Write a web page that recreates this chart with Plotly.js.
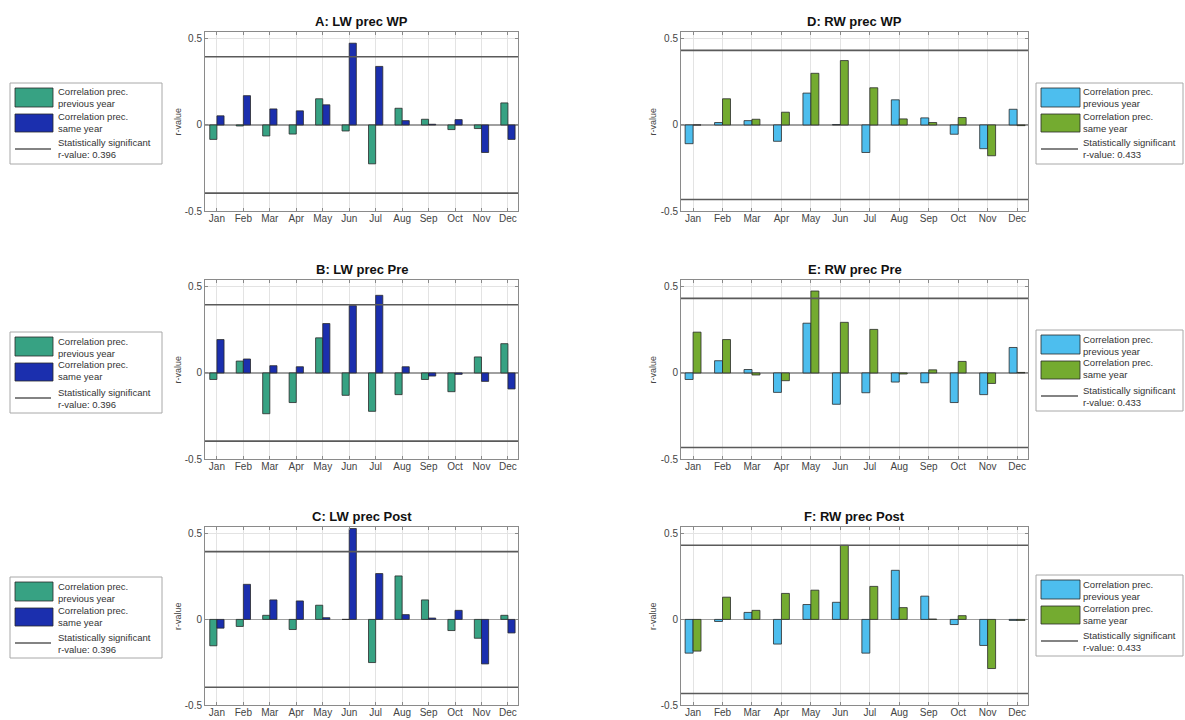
<!DOCTYPE html>
<html>
<head>
<meta charset="utf-8">
<script src="https://cdn.plot.ly/plotly-3.0.1.min.js"></script>
<style>html,body{margin:0;padding:0;background:#fff;}#chart{width:1185px;height:720px;}</style>
</head>
<body>
<div id="chart"></div>
<script>
// ---------- DATA ----------
const months = ['Jan','Feb','Mar','Apr','May','Jun','Jul','Aug','Sep','Oct','Nov','Dec'];
const yTickVals = [-0.5, 0, 0.5];
const yTickText = ['-0.5', '0', '0.5'];

// A: LW prec WP
const lwWP_prev = [-0.084, -0.006, -0.064, -0.053, 0.152, -0.035, -0.226, 0.097, 0.033, -0.027, -0.021, 0.128];
const lwWP_same = [0.053, 0.170, 0.093, 0.082, 0.117, 0.475, 0.340, 0.025, 0.004, 0.031, -0.160, -0.084];
// B: LW prec Pre
const lwPre_prev = [-0.038, 0.069, -0.237, -0.172, 0.204, -0.130, -0.223, -0.126, -0.038, -0.109, 0.093, 0.170];
const lwPre_same = [0.194, 0.081, 0.042, 0.036, 0.287, 0.391, 0.451, 0.036, -0.018, -0.008, -0.049, -0.093];
// C: LW prec Post
const lwPost_prev = [-0.154, -0.041, 0.024, -0.059, 0.083, 0.0, -0.252, 0.254, 0.114, -0.065, -0.110, 0.024];
const lwPost_same = [-0.051, 0.205, 0.114, 0.108, 0.010, 0.531, 0.268, 0.028, 0.008, 0.053, -0.260, -0.079];
// D: RW prec WP
const rwWP_prev = [-0.109, 0.014, 0.025, -0.095, 0.185, 0.002, -0.160, 0.146, 0.041, -0.054, -0.138, 0.091];
const rwWP_same = [0.0, 0.152, 0.033, 0.074, 0.300, 0.374, 0.216, 0.035, 0.014, 0.043, -0.179, -0.004];
// E: RW prec Pre
const rwPre_prev = [-0.038, 0.071, 0.020, -0.113, 0.289, -0.182, -0.115, -0.053, -0.057, -0.172, -0.126, 0.148];
const rwPre_same = [0.237, 0.194, -0.012, -0.045, 0.476, 0.294, 0.253, -0.006, 0.018, 0.067, -0.061, 0.003];
// F: RW prec Post
const rwPost_prev = [-0.197, -0.012, 0.041, -0.144, 0.087, 0.100, -0.197, 0.287, 0.136, -0.030, -0.152, -0.006];
const rwPost_same = [-0.185, 0.130, 0.053, 0.152, 0.171, 0.433, 0.193, 0.069, 0.002, 0.022, -0.287, -0.006];

const sigLW = 0.396;
const sigRW = 0.433;

const legendPrevText = 'Correlation prec.<br>previous year';
const legendSameText = 'Correlation prec.<br>same year';
const legendSigLW = 'Statistically significant<br>r-value: 0.396';
const legendSigRW = 'Statistically significant<br>r-value: 0.433';

// ---------- STYLE ----------
const W = 1185, H = 720;
const FONT = 'Liberation Sans, Arial, Helvetica, sans-serif';
const cTeal = '#37a283', cBlue = '#1b2fae', cSky = '#4dbeee', cGreen = '#74ab30';
const px = v => v / W;
const py = v => 1 - v / H;

const panels = [
  {ax: '',  title: 'A: LW prec WP',   prev: lwWP_prev,   same: lwWP_same,   sig: sigLW, c1: cTeal, c2: cBlue,  side: 'L', top: 32,  bot: 211, legTop: 83,  sigTxt: legendSigLW},
  {ax: '2', title: 'B: LW prec Pre',  prev: lwPre_prev,  same: lwPre_same,  sig: sigLW, c1: cTeal, c2: cBlue,  side: 'L', top: 280, bot: 459, legTop: 332, sigTxt: legendSigLW},
  {ax: '3', title: 'C: LW prec Post', prev: lwPost_prev, same: lwPost_same, sig: sigLW, c1: cTeal, c2: cBlue,  side: 'L', top: 527, bot: 705, legTop: 577, sigTxt: legendSigLW},
  {ax: '4', title: 'D: RW prec WP',   prev: rwWP_prev,   same: rwWP_same,   sig: sigRW, c1: cSky,  c2: cGreen, side: 'R', top: 32,  bot: 211, legTop: 83,  sigTxt: legendSigRW},
  {ax: '5', title: 'E: RW prec Pre',  prev: rwPre_prev,  same: rwPre_same,  sig: sigRW, c1: cSky,  c2: cGreen, side: 'R', top: 280, bot: 459, legTop: 330, sigTxt: legendSigRW},
  {ax: '6', title: 'F: RW prec Post', prev: rwPost_prev, same: rwPost_same, sig: sigRW, c1: cSky,  c2: cGreen, side: 'R', top: 527, bot: 705, legTop: 575, sigTxt: legendSigRW}
];

const geo = {
  L: {x0: 205, x1: 518, xr: [-0.45, 11.38], ylab: 178, box: [10, 162], sw: [15, 53], txt: 56},
  R: {x0: 681, x1: 1028, xr: [-0.41, 11.37], ylab: 653, box: [1036, 1183], sw: [1041, 1080], txt: 1081}
};

const traces = [];
const shapes = [];
const annotations = [];
const layout = {
  width: W, height: H,
  margin: {l: 0, r: 0, t: 0, b: 0},
  paper_bgcolor: '#ffffff', plot_bgcolor: '#ffffff',
  showlegend: false,
  barmode: 'group', bargap: 0.46, bargroupgap: 0,
  font: {family: FONT, size: 10, color: '#333'}
};

panels.forEach(p => {
  const g = geo[p.side];
  const xa = 'x' + p.ax, ya = 'y' + p.ax;
  traces.push({
    type: 'bar', x: months, y: p.prev, xaxis: xa, yaxis: ya, name: 'prev',
    marker: {color: p.c1, line: {color: '#2a2a2a', width: 0.8}}, hoverinfo: 'y'
  });
  traces.push({
    type: 'bar', x: months, y: p.same, xaxis: xa, yaxis: ya, name: 'same',
    marker: {color: p.c2, line: {color: '#2a2a2a', width: 0.8}}, hoverinfo: 'y'
  });
  layout['xaxis' + p.ax] = {
    domain: [px(g.x0), px(g.x1)], anchor: ya, type: 'category',
    range: g.xr, categoryorder: 'array', categoryarray: months,
    showgrid: true, gridcolor: '#e3e3e3', gridwidth: 1,
    showline: true, linecolor: '#8a8a8a', linewidth: 1, mirror: 'ticks',
    ticks: 'inside', ticklen: 3, tickcolor: '#8a8a8a', ticklabelstandoff: -2,
    tickfont: {family: FONT, size: 10, color: '#444'}, zeroline: false, fixedrange: true
  };
  layout['yaxis' + p.ax] = {
    domain: [py(p.bot), py(p.top)], anchor: xa,
    range: [-0.5, 0.54], tickvals: yTickVals, ticktext: yTickText,
    showgrid: true, gridcolor: '#e3e3e3', gridwidth: 1,
    zeroline: true, zerolinecolor: '#a0a0a0', zerolinewidth: 1.5,
    showline: true, linecolor: '#8a8a8a', linewidth: 1, mirror: 'ticks',
    ticks: 'inside', ticklen: 3, tickcolor: '#8a8a8a',
    tickfont: {family: FONT, size: 10, color: '#444'}, fixedrange: true
  };
  // significance lines
  [p.sig, -p.sig].forEach(v => {
    shapes.push({type: 'line', xref: xa + ' domain', x0: 0, x1: 1, yref: ya, y0: v, y1: v,
      line: {color: '#5a5a5a', width: 1.6}});
  });
  // panel title
  annotations.push({text: '<b>' + p.title + '</b>', xref: 'paper', yref: 'paper',
    x: px((g.x0 + g.x1) / 2), y: py(p.top - 11), xanchor: 'center', yanchor: 'middle',
    showarrow: false, font: {family: FONT, size: 13, color: '#111'}});
  // y axis title
  annotations.push({text: 'r-value', xref: 'paper', yref: 'paper', textangle: -90,
    x: px(g.ylab), y: py((p.top + p.bot) / 2), xanchor: 'center', yanchor: 'middle',
    showarrow: false, font: {family: FONT, size: 9, color: '#444'}});
  // legend box
  const T = p.legTop;
  shapes.push({type: 'rect', xref: 'paper', yref: 'paper', x0: px(g.box[0]), x1: px(g.box[1]),
    y0: py(T), y1: py(T + 81), fillcolor: '#ffffff', line: {color: '#a8a8a8', width: 1}});
  shapes.push({type: 'rect', xref: 'paper', yref: 'paper', x0: px(g.sw[0]), x1: px(g.sw[1]),
    y0: py(T + 5), y1: py(T + 24), fillcolor: p.c1, line: {color: '#2a2a2a', width: 0.8}});
  shapes.push({type: 'rect', xref: 'paper', yref: 'paper', x0: px(g.sw[0]), x1: px(g.sw[1]),
    y0: py(T + 31), y1: py(T + 49), fillcolor: p.c2, line: {color: '#2a2a2a', width: 0.8}});
  shapes.push({type: 'line', xref: 'paper', yref: 'paper', x0: px(g.sw[0]), x1: px(g.sw[1] - 2),
    y0: py(T + 66), y1: py(T + 66), line: {color: '#5a5a5a', width: 1.6}});
  [[legendPrevText, T + 15], [legendSameText, T + 39], [p.sigTxt, T + 66]].forEach(([t, yc]) => {
    annotations.push({text: t, xref: 'paper', yref: 'paper', x: px(g.txt), y: py(yc),
      xanchor: 'left', yanchor: 'middle', align: 'left', showarrow: false,
      font: {family: FONT, size: 9.5, color: '#333'}});
  });
});

layout.shapes = shapes;
layout.annotations = annotations;

Plotly.newPlot('chart', traces, layout, {displayModeBar: false, staticPlot: true});
</script>
</body>
</html>
